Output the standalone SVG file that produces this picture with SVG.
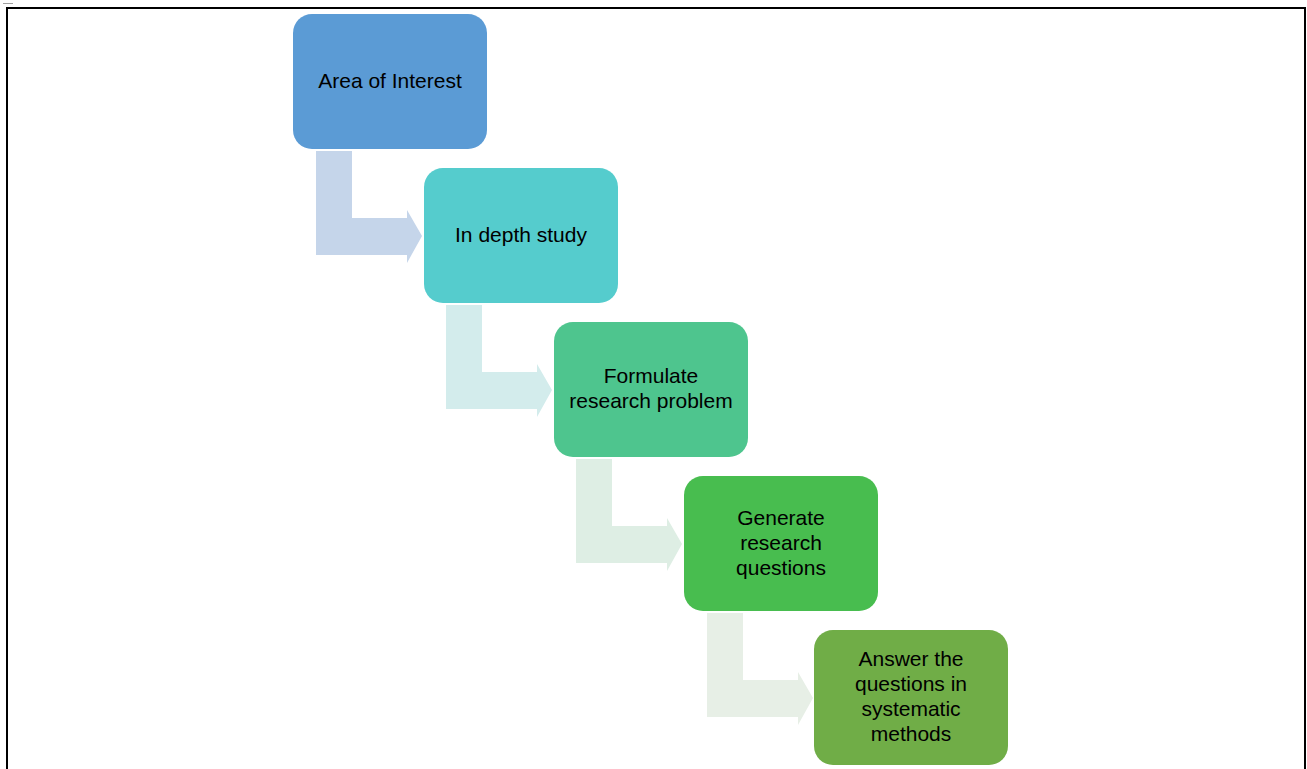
<svg xmlns="http://www.w3.org/2000/svg" width="1307" height="769" viewBox="0 0 1307 769">
<style>
.node{stroke:none}
.lbl{font-family:"Liberation Sans",Arial,sans-serif;font-size:21px;fill:#000;text-anchor:middle}
</style>
<defs>
<path id="bend" d="M0,0 H36 V67 H91 V59 L106,85 L91,112 V104 H0 Z"/>
</defs>
<rect width="1307" height="769" fill="#fff"/>
<line x1="3" y1="3.5" x2="13" y2="3.5" stroke="#a0a0a0" stroke-width="1"/>
<path d="M7,769 V8 H1305 V769" fill="none" stroke="#000" stroke-width="2"/>
<g id="connectors">
<use href="#bend" x="316" y="151" fill="#C5D5EA"/>
<use href="#bend" x="446" y="305" fill="#D3ECEC"/>
<use href="#bend" x="576" y="459" fill="#DEEEE4"/>
<use href="#bend" x="707" y="613" fill="#E7EFE6"/>
</g>
<g id="n1"><rect class="node" x="293" y="14" width="194" height="135" rx="19" fill="#5B9BD5"/><text class="lbl" x="390" y="88">Area of Interest</text></g>
<g id="n2"><rect class="node" x="424" y="168" width="194" height="135" rx="19" fill="#55CCCD"/><text class="lbl" x="521" y="242">In depth study</text></g>
<g id="n3"><rect class="node" x="554" y="322" width="194" height="135" rx="19" fill="#4EC58E"/><text class="lbl" x="651" y="383">Formulate</text><text class="lbl" x="651" y="408">research problem</text></g>
<g id="n4"><rect class="node" x="684" y="476" width="194" height="135" rx="19" fill="#48BD4F"/><text class="lbl" x="781" y="525">Generate</text><text class="lbl" x="781" y="550">research</text><text class="lbl" x="781" y="575">questions</text></g>
<g id="n5"><rect class="node" x="814" y="630" width="194" height="135" rx="19" fill="#70AD47"/><text class="lbl" x="911" y="666">Answer the</text><text class="lbl" x="911" y="691">questions in</text><text class="lbl" x="911" y="716">systematic</text><text class="lbl" x="911" y="741">methods</text></g>
</svg>
